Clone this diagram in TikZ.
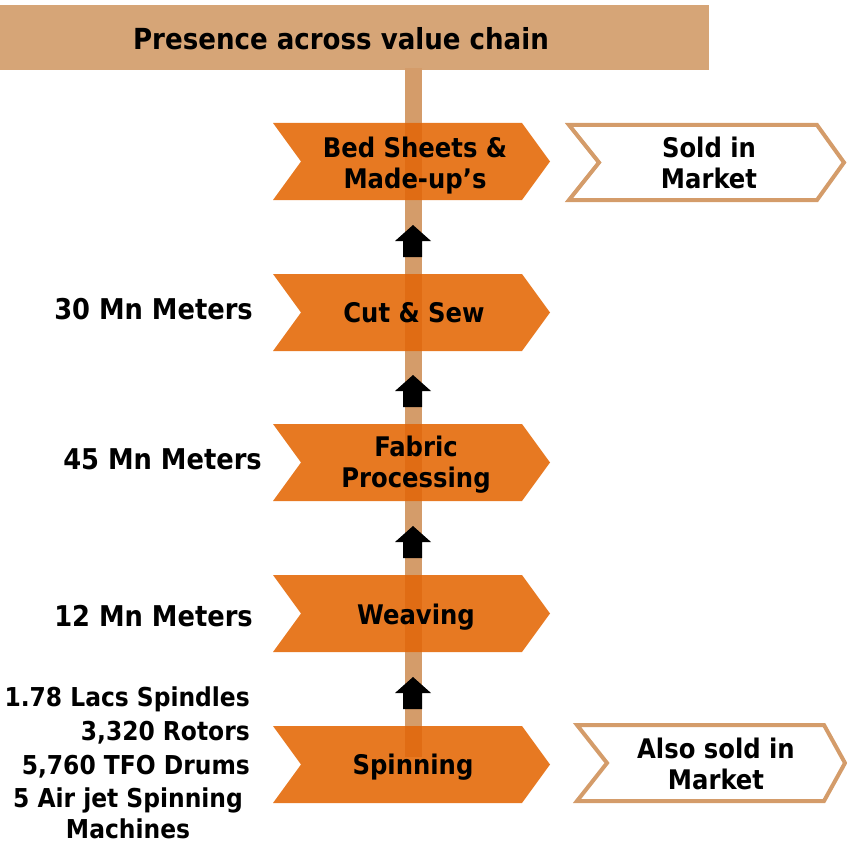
\documentclass[tikz,border=0pt]{standalone}
\usepackage{fontspec}
\setmainfont{DejaVu Sans Condensed}[BoldFont={DejaVu Sans Condensed Bold}]
\definecolor{headerc}{RGB}{214,165,119}
\definecolor{stemc}{RGB}{212,156,106}
\definecolor{orc}{RGB}{231,121,34}
\definecolor{ovc}{RGB}{224,108,20}
\newcommand{\OrChev}[2]{%
  \begin{scope}[shift={(0,#1)}]
    \fill[orc] (273,0) -- (522,0) -- (550,38.5) -- (522,77) -- (273,77) -- (301,38.5) -- cycle;
    \fill[ovc] (405,0) rectangle (422,#2);
  \end{scope}}
\newcommand{\UpArrow}[1]{%
  \begin{scope}[shift={(0,#1)}]
    \fill[black] (403,0) -- (422,0) -- (422,-16) -- (431,-16) -- (413,-32) -- (395,-16) -- (403,-16) -- cycle;
  \end{scope}}
\tikzset{
  lbl/.style={inner sep=0pt, anchor=base, align=center, font=\fontsize{27}{31}\selectfont\bfseries},
  ttl/.style={inner sep=0pt, anchor=base, font=\fontsize{29}{34}\selectfont\bfseries},
  side/.style={inner sep=0pt, anchor=base east, font=\fontsize{28.6}{34}\selectfont\bfseries},
  spin/.style={inner sep=0pt, anchor=base east, font=\fontsize{26}{33}\selectfont\bfseries},
  box/.style={draw=stemc, line width=4pt, line join=miter, fill=white}
}
\begin{document}
\begin{tikzpicture}[x=1pt,y=-1pt]
\useasboundingbox (0,0) rectangle (847,843);
% header
\fill[headerc] (0,5) rectangle (709,70);
\node[ttl] (title) at (341,50) {Presence across value chain};
% stem
\fill[stemc] (405,68) rectangle (422,757);
% chevrons
\OrChev{123}{77}
\OrChev{274}{77}
\OrChev{424}{77}
\OrChev{575}{77}
\OrChev{726}{31}
% arrows
\UpArrow{257}
\UpArrow{407}
\UpArrow{558}
\UpArrow{709}
% market boxes
\draw[box] (569,125) -- (817,125) -- (844,162.5) -- (817,200) -- (569,200) -- (599,162.5) -- cycle;
\draw[box] (577,725) -- (824,725) -- (845,763) -- (824,801) -- (577,801) -- (607,763) -- cycle;
% chevron texts
\node[lbl] (bed) at (415,188) {Bed Sheets \&\\Made-up’s};
\node[lbl] (cut) at (414,322) {Cut \& Sew};
\node[lbl] (fab) at (416,487) {Fabric\\Processing};
\node[lbl] (wea) at (416,624) {Weaving};
\node[lbl] (spi) at (413,774) {Spinning};
\node[lbl] (sold) at (709,188) {Sold in\\Market};
\node[lbl] (also) at (716,789) {Also sold in\\Market};
% side labels
\node[side] (m30) at (253,319) {30 Mn Meters};
\node[side] (m45) at (262,469) {45 Mn Meters};
\node[side] (m12) at (253,626) {12 Mn Meters};
\node[spin] (s1) at (250,706) {1.78 Lacs Spindles};
\node[spin] (s2) at (250,740) {3,320 Rotors};
\node[spin] (s3) at (250,774) {5,760 TFO Drums};
\node[spin, anchor=base] (s4) at (128,807) {5 Air jet Spinning};
\node[spin, anchor=base, text depth=0pt] (s5) at (128,838) {Machines};
\end{tikzpicture}
\end{document}
